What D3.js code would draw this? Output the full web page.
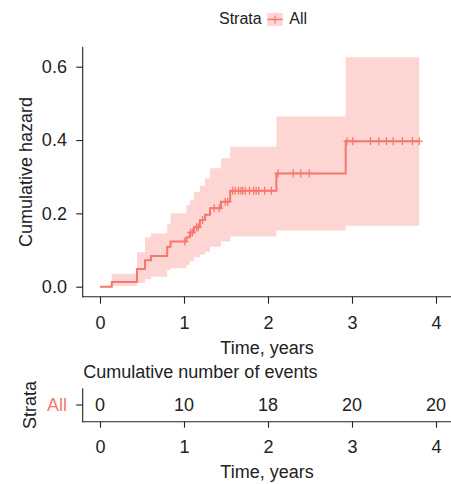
<!DOCTYPE html>
<html><head><meta charset="utf-8">
<script src="https://cdn.jsdelivr.net/npm/d3@7"></script>
<style>
body{margin:0;background:#fff;}
text{font-family:"Liberation Sans",Arial,Helvetica,sans-serif;fill:#222;}
</style></head>
<body>
<svg id="c" width="451" height="484"></svg>
<script>
// ---- data ----
const eventTimes = [0, 0.14, 0.44, 0.536, 0.607, 0.80, 0.84, 1.03, 1.07, 1.12, 1.19, 1.25, 1.31, 1.44, 1.55, 2.10, 2.925];
const cumHazard  = [0, 0.013, 0.048, 0.072, 0.084, 0.109, 0.123, 0.135, 0.148, 0.162, 0.182, 0.196, 0.214, 0.232, 0.262, 0.309, 0.397];
const upperCI    = [0, 0.035, 0.094, 0.135, 0.145, 0.170, 0.200, 0.222, 0.236, 0.258, 0.275, 0.295, 0.323, 0.350, 0.382, 0.464, 0.626];
const lowerCI    = [0, 0.002, 0.010, 0.020, 0.027, 0.045, 0.050, 0.060, 0.070, 0.080, 0.088, 0.095, 0.109, 0.123, 0.137, 0.153, 0.166];
const lastTime = 3.80;
const censorTimes = [1.01, 1.08, 1.10, 1.15, 1.17, 1.22, 1.36, 1.42, 1.49, 1.52,
  1.58, 1.61, 1.65, 1.68, 1.70, 1.73, 1.78, 1.83, 1.86, 1.89, 1.96, 2.04,
  2.12, 2.30, 2.39, 2.49, 2.94, 3.01, 3.22, 3.32, 3.41, 3.49, 3.60, 3.72, 3.80];
const xTicks = [0, 1, 2, 3, 4];
const yTicks = [0, 0.2, 0.4, 0.6];
const strata = ["All"];
const eventsAtTicks = [0, 10, 18, 20, 20];

const col = "#F8766D";
const svg = d3.select("#c");
const FS = 18;

const x = d3.scaleLinear().domain([0, 4]).range([100, 436]);
const y = d3.scaleLinear().domain([0, 0.6]).range([286.7, 66.7]);

const pts = eventTimes.map((t, i) => ({t, h: cumHazard[i], lo: lowerCI[i], up: upperCI[i]}));
pts.push({t: lastTime, h: cumHazard[cumHazard.length-1], lo: lowerCI[lowerCI.length-1], up: upperCI[upperCI.length-1]});

// band
svg.append("path").datum(pts)
  .attr("d", d3.area().curve(d3.curveStepAfter).x(d => x(d.t)).y0(d => y(d.lo)).y1(d => y(d.up)))
  .attr("fill", col).attr("fill-opacity", 0.3);

// step line
svg.append("path").datum(pts)
  .attr("d", d3.line().curve(d3.curveStepAfter).x(d => x(d.t)).y(d => y(d.h)))
  .attr("fill", "none").attr("stroke", col).attr("stroke-width", 2);

// censor marks
function hAt(t){ let h = 0; for (let i=0;i<eventTimes.length;i++){ if (eventTimes[i] <= t) h = cumHazard[i]; } return h; }
const cg = svg.append("g").attr("stroke", col).attr("stroke-width", 1.3);
censorTimes.forEach(t => {
  const cx = x(t), cy = y(hAt(t));
  cg.append("line").attr("x1", cx).attr("x2", cx).attr("y1", cy-4).attr("y2", cy+4);
  cg.append("line").attr("x1", cx-3.5).attr("x2", cx+3.5).attr("y1", cy).attr("y2", cy);
});

// axes main
const axY = svg.append("g").attr("transform", "translate(82.7,0)")
  .call(d3.axisLeft(y).tickValues(yTicks).tickFormat(d3.format(".1f")).tickSize(6.5).tickPadding(9.3));
axY.select(".domain").remove();
svg.append("line").attr("x1", 82.7).attr("x2", 82.7).attr("y1", 46.7).attr("y2", 297.2).attr("stroke", "#222").attr("stroke-width", 1.1);

const axX = svg.append("g").attr("transform", "translate(0,296.7)")
  .call(d3.axisBottom(x).tickValues(xTicks).tickFormat(d3.format("d")).tickSize(7).tickPadding(13));
axX.select(".domain").remove();
svg.append("line").attr("x1", 82.2).attr("x2", 451).attr("y1", 296.7).attr("y2", 296.7).attr("stroke", "#222").attr("stroke-width", 1.1);

svg.selectAll(".tick line").attr("stroke", "#222").attr("stroke-width", 1.1);
svg.selectAll(".tick text").style("font-size", FS + "px").attr("fill", "#222");

svg.append("text").attr("x", 267).attr("y", 354.3).attr("text-anchor", "middle").style("font-size", FS+"px").text("Time, years");
svg.append("text").attr("transform", "translate(32.3,172) rotate(-90)").attr("text-anchor", "middle").style("font-size", FS+"px").text("Cumulative hazard");

// legend
svg.append("text").attr("x", 261.7).attr("y", 24).attr("text-anchor", "end").style("font-size", "16px").text("Strata");
svg.append("rect").attr("x", 267.3).attr("y", 13).attr("width", 15.4).attr("height", 13).attr("fill", col).attr("fill-opacity", 0.3);
svg.append("line").attr("x1", 267.3).attr("x2", 282.7).attr("y1", 19.5).attr("y2", 19.5).attr("stroke", col).attr("stroke-width", 1.5);
svg.append("line").attr("x1", 275).attr("x2", 275).attr("y1", 15.5).attr("y2", 23.5).attr("stroke", col).attr("stroke-width", 1.2);
svg.append("text").attr("x", 289.3).attr("y", 24).style("font-size", "16px").text(strata[0]);

// risk table
svg.append("text").attr("x", 83.3).attr("y", 378.3).style("font-size", FS+"px").text("Cumulative number of events");
const ty = d3.scaleBand().domain(strata).range([388.3, 421.7]);
const tg = svg.append("g");
tg.selectAll("text.n").data(eventsAtTicks).join("text").attr("class", "n")
  .attr("x", (d, i) => x(xTicks[i])).attr("y", ty(strata[0]) + ty.bandwidth()/2 + 6.4)
  .attr("text-anchor", "middle").style("font-size", FS+"px").text(d => d);

const axTY = svg.append("g").attr("transform", "translate(82.7,0)")
  .call(d3.axisLeft(ty).tickSize(6.5).tickPadding(9.3));
axTY.select(".domain").remove();
axTY.selectAll(".tick text").style("font-size", FS+"px").attr("fill", col).style("fill", col);
axTY.selectAll(".tick line").attr("stroke", "#222").attr("stroke-width", 1.1);
svg.append("line").attr("x1", 82.7).attr("x2", 82.7).attr("y1", 388.3).attr("y2", 422.2).attr("stroke", "#222").attr("stroke-width", 1.1);

const axTX = svg.append("g").attr("transform", "translate(0,421.7)")
  .call(d3.axisBottom(x).tickValues(xTicks).tickFormat(d3.format("d")).tickSize(6).tickPadding(12.5));
axTX.select(".domain").remove();
axTX.selectAll(".tick line").attr("stroke", "#222").attr("stroke-width", 1.1);
axTX.selectAll(".tick text").style("font-size", FS+"px").attr("fill", "#222");
svg.append("line").attr("x1", 82.2).attr("x2", 451).attr("y1", 421.7).attr("y2", 421.7).attr("stroke", "#222").attr("stroke-width", 1.1);

svg.append("text").attr("x", 267).attr("y", 478.3).attr("text-anchor", "middle").style("font-size", FS+"px").text("Time, years");
svg.append("text").attr("transform", "translate(36,405) rotate(-90)").attr("text-anchor", "middle").style("font-size", FS+"px").text("Strata");
</script>
</body></html>
